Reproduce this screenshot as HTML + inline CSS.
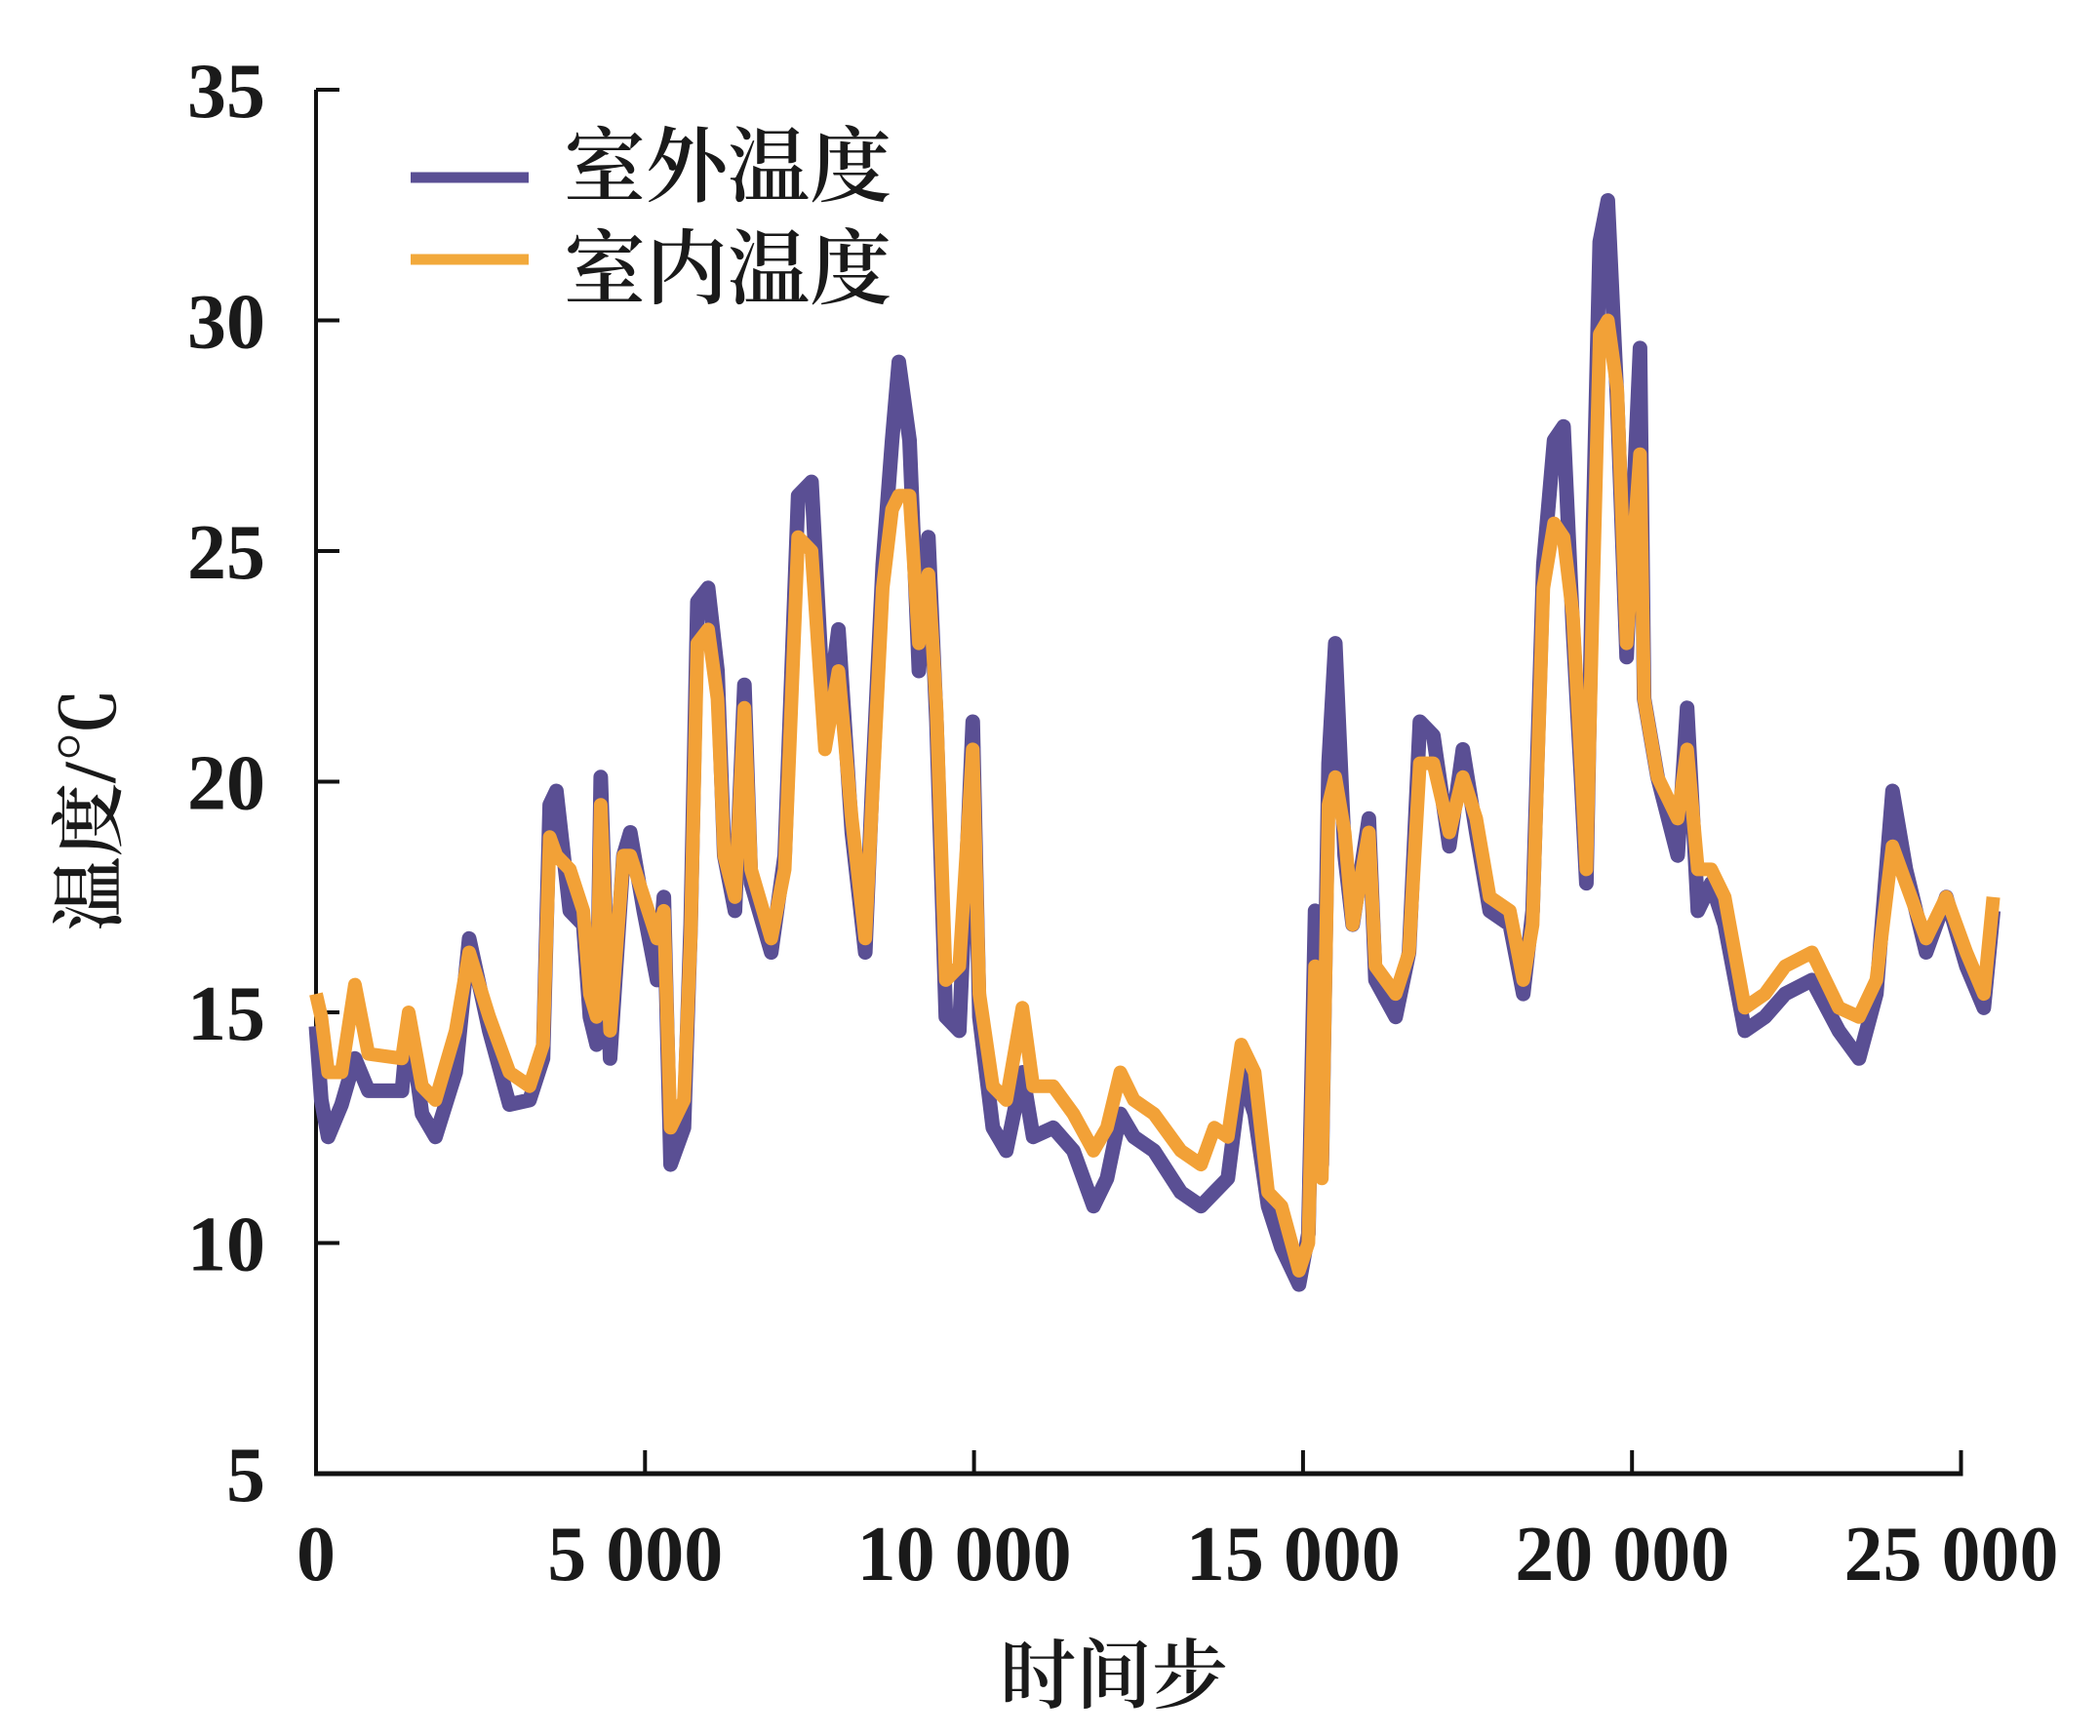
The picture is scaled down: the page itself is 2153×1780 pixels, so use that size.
<!DOCTYPE html>
<html><head><meta charset="utf-8">
<style>
html,body{margin:0;padding:0;background:#fff;}
svg{display:block;}
.tick{font-family:"Liberation Serif","Noto Serif CJK SC",serif;font-weight:bold;font-size:80px;fill:#1a1a1a;}
.cjk{font-family:"Liberation Serif","Noto Serif CJK SC",serif;font-weight:600;fill:#1a1a1a;}
</style></head>
<body>
<svg id="chart" width="2153" height="1780" viewBox="0 0 2153 1780" xmlns="http://www.w3.org/2000/svg">
<g id="axes"></g>
<g id="series"></g>
<g>
  <line x1="421" y1="182" x2="542" y2="182" stroke="#5a4f94" stroke-width="11"/>
  <text class="cjk" x="578" y="200" font-size="84">室外温度</text>
  <line x1="421" y1="266" x2="542" y2="266" stroke="#f2a93b" stroke-width="11"/>
  <text class="cjk" x="578" y="305" font-size="84">室内温度</text>
</g>
<text class="cjk" font-size="76" text-anchor="middle" transform="translate(118,830) rotate(-90)">温度/℃</text>
<text class="cjk" font-size="78" text-anchor="middle" x="1142" y="1745">时间步</text>
</svg>
<script>
const steps = [0,80,184,388,592,796,1306,1408,1612,1816,2122,2327,2633,2939,3245,3449,3551,3653,3857,4061,4163,4265,4327,4469,4673,4776,4980,5184,5286,5388,5592,5694,5796,5959,6102,6204,6367,6510,6612,6918,7122,7327,7531,7735,7939,8143,8347,8449,8612,8755,8857,9020,9163,9306,9429,9571,9776,9980,10082,10286,10490,10735,10898,11204,11510,11816,12020,12224,12429,12735,13143,13449,13653,13857,14061,14265,14469,14673,14939,15082,15184,15286,15388,15490,15633,15755,16000,16102,16408,16612,16776,16980,17224,17429,17633,17837,18143,18347,18490,18653,18816,18959,19102,19224,19306,19408,19510,19633,19776,19918,20122,20184,20388,20694,20837,21000,21204,21408,21714,22020,22327,22735,23143,23449,23714,23959,24163,24469,24776,25082,25347,25490];
const outdoor = [14.7,13.1,12.3,13.0,14.0,13.3,13.3,14.9,12.8,12.3,13.7,16.6,14.6,13.0,13.1,14.0,19.5,19.8,17.2,16.9,14.9,14.3,20.1,14.0,18.4,18.9,17.2,15.7,17.5,11.7,12.5,16.9,23.9,24.2,22.4,18.4,17.2,22.1,17.8,16.3,18.4,26.2,26.5,21.0,23.3,18.9,16.3,19.8,24.7,27.4,29.1,27.4,22.4,25.3,21.3,14.9,14.6,21.3,14.9,12.5,12.0,13.7,12.3,12.5,12.0,10.8,11.4,12.8,12.3,12.0,11.1,10.8,11.1,11.4,13.7,12.8,10.8,9.9,9.1,10.2,17.2,11.7,20.4,23.0,18.4,16.9,19.2,15.7,14.9,16.3,21.3,21.0,18.6,20.7,18.9,17.2,16.9,15.4,17.2,24.7,27.4,27.7,23.3,20.1,17.8,25.6,31.7,32.6,28.2,22.7,29.4,21.8,20.1,18.4,21.6,17.2,17.8,16.9,14.6,14.9,15.4,15.7,14.6,14.0,15.4,19.8,18.1,16.3,17.5,16.0,15.1,17.2];
const indoor = [15.4,14.9,13.7,13.7,15.6,14.1,14.0,15.0,13.4,13.1,14.6,16.3,14.9,13.7,13.4,14.3,18.8,18.4,18.1,17.2,15.4,14.9,19.5,14.6,18.4,18.4,17.5,16.6,17.2,12.5,13.1,16.6,23.0,23.3,21.8,18.4,17.5,21.6,18.1,16.6,18.1,25.3,25.0,20.7,22.4,19.2,16.6,19.5,24.2,25.9,26.2,26.2,23.0,24.5,21.6,15.7,16.0,20.7,15.4,13.4,13.1,15.1,13.4,13.4,12.8,12.0,12.5,13.7,13.1,12.8,12.0,11.7,12.5,12.3,14.3,13.7,11.1,10.8,9.4,10.0,16.0,11.4,19.5,20.1,18.9,16.9,18.9,16.0,15.4,16.3,20.4,20.4,18.9,20.1,19.2,17.5,17.2,15.7,16.9,24.2,25.6,25.3,23.6,20.4,18.1,24.2,29.7,30.0,28.5,23.0,27.1,21.8,20.1,19.2,20.7,18.1,18.1,17.5,15.1,15.4,16.0,16.3,15.1,14.9,15.7,18.6,17.8,16.6,17.5,16.3,15.4,17.5];
const yTicks = [5,10,15,20,25,30,35];
const xTicks = [0,5000,10000,15000,20000,25000];
const xTickLabels = ["0","5 000","10 000","15 000","20 000","25 000"];

const NS = "http://www.w3.org/2000/svg";
const X0 = 324, XPER = 337.3/5000;
const Y5 = 1511, YPER = (1511-92)/30;
function xs(s){ return X0 + s*XPER; }
function ys(v){ return Y5 - (v-5)*YPER; }
function mk(tag, attrs, parent){
  const e = document.createElementNS(NS, tag);
  for (const k in attrs) e.setAttribute(k, attrs[k]);
  parent.appendChild(e);
  return e;
}
const axes = document.getElementById('axes');
const series = document.getElementById('series');

const yAxis = mk('line', {x1:X0, y1:ys(35), x2:X0, y2:Y5+2, stroke:'#111', 'stroke-width':4}, axes);


const xAxis = mk('line', {x1:X0-2, y1:Y5, x2:xs(25000)+2, y2:Y5, stroke:'#111', 'stroke-width':5}, axes);



yTicks.forEach(v => {
  const t = mk('line', {x1:X0, y1:ys(v), x2:X0+24, y2:ys(v), stroke:'#111', 'stroke-width':4}, axes);
  
  
  const l = mk('text', {x:272, y:ys(v)+28, 'text-anchor':'end', class:'tick'}, axes);
  l.textContent = String(v);
  
  
});
xTicks.forEach((s, i) => {
  const t = mk('line', {x1:xs(s), y1:Y5, x2:xs(s), y2:Y5-24, stroke:'#111', 'stroke-width':4}, axes);
  
  
  const l = mk('text', {x:xs(s) - (i===0?0:10), y:1620, 'text-anchor':'middle', class:'tick'}, axes);
  l.textContent = xTickLabels[i];
  
  
});

function pathFor(vals){
  return vals.map((v,i)=> (i?'L':'M') + xs(steps[i]).toFixed(1) + ' ' + ys(v).toFixed(1)).join(' ');
}
const pOut = mk('path', {d:pathFor(outdoor), fill:'none', stroke:'#5a4f94', 'stroke-width':15, 'stroke-linejoin':'round', 'stroke-linecap':'butt'}, series);


const pIn = mk('path', {d:pathFor(indoor), fill:'none', stroke:'#f2a137', 'stroke-width':14, 'stroke-linejoin':'round', 'stroke-linecap':'butt'}, series);


</script>
</body></html>
